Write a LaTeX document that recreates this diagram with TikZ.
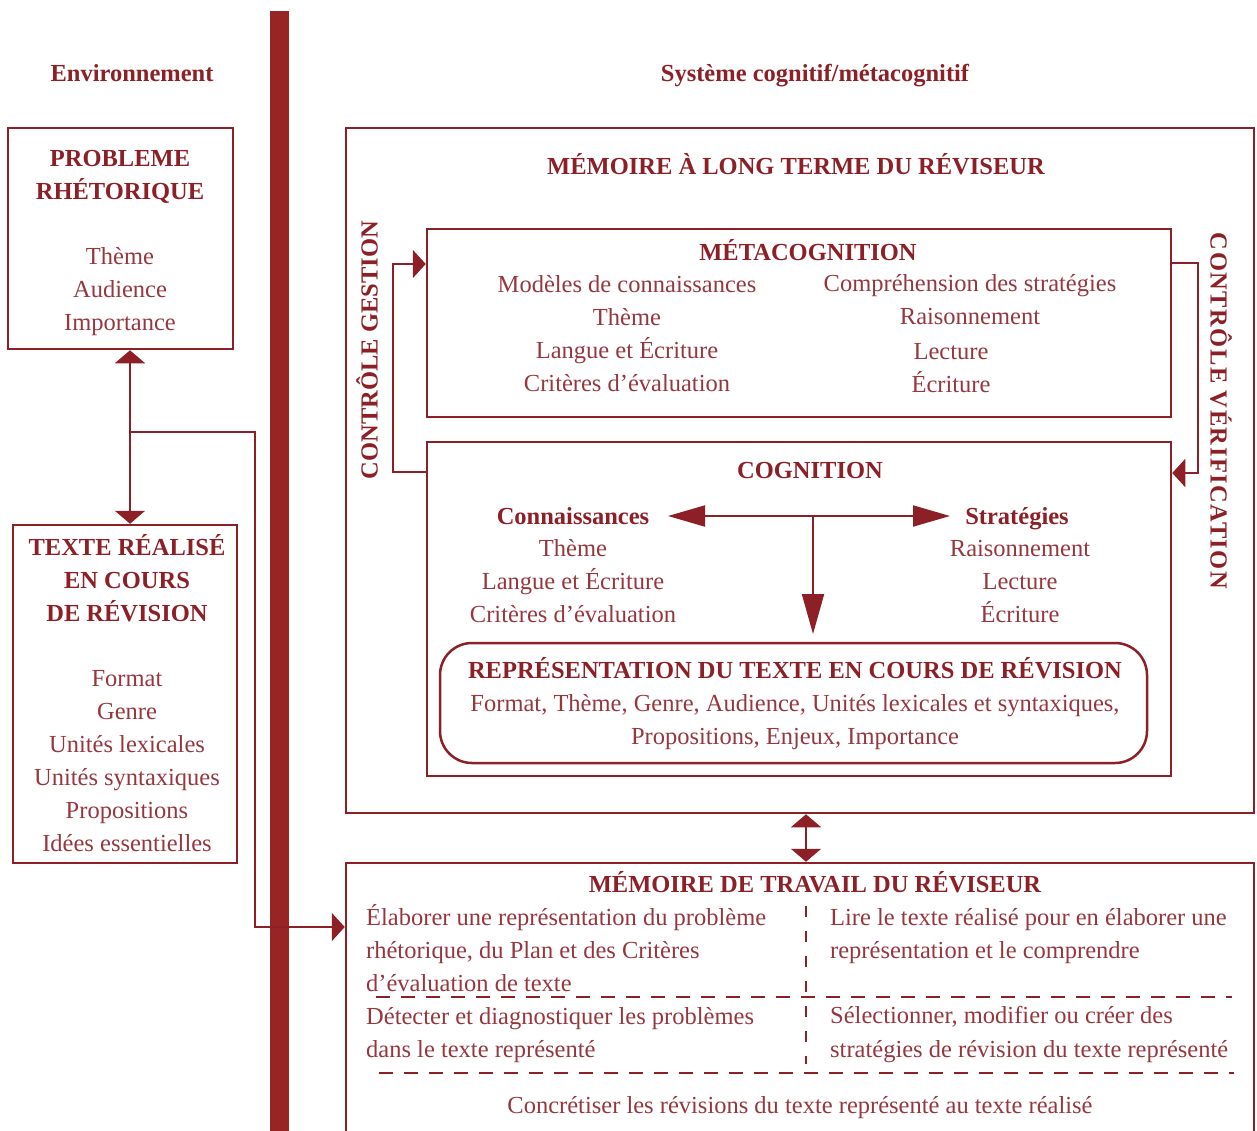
\documentclass[tikz,border=0pt]{standalone}
\usepackage{fontspec}
\setmainfont{Liberation Serif}
\usetikzlibrary{arrows.meta}
\definecolor{dred}{RGB}{140,32,38}
\definecolor{tred}{RGB}{150,55,62}
\definecolor{barred}{RGB}{152,36,36}
\begin{document}
\begin{tikzpicture}[x=1pt,y=-1pt,
  box/.style={draw=dred, line width=2.5pt, inner sep=0pt},
  txt/.style={text=tred, font=\fontsize{24.5}{33}\selectfont, align=center, inner sep=0pt},
  ltxt/.style={text=tred, font=\fontsize{24.5}{33}\selectfont, align=left, inner sep=0pt, anchor=west},
  ttl/.style={text=dred, font=\fontsize{24.5}{33}\selectfont\bfseries, align=center, inner sep=0pt},
  conn/.style={draw=dred, line width=2pt},
  smalltip/.style={-{Triangle[length=13pt,width=28pt]}},
  smallboth/.style={{Triangle[length=13pt,width=30pt]}-{Triangle[length=13pt,width=30pt]}},
  bigboth/.style={{Triangle[length=37pt,width=21pt]}-{Triangle[length=37pt,width=21pt]}},
  bigtip/.style={-{Triangle[length=40pt,width=22pt]}},
  dsh/.style={draw=dred, line width=2.5pt, dash pattern=on 14pt off 11pt}
]
\useasboundingbox (0,0) rectangle (1257,1130);
\clip (0,0) rectangle (1257,1130);

% thick separating bar
\fill[barred] (270,11) rectangle (289,1140);

% headings
\node[ttl] (env) at (132,73) {Environnement};
\node[ttl] (sys) at (815,76) {Système cognitif/métacognitif};

% environment boxes
\node[box, minimum width=225pt, minimum height=221pt] (prob) at (120.5,238.5) {};
\node[ttl] (probT) at (120,177) {PROBLEME\\RHÉTORIQUE};
\node[txt] (probI) at (120,292) {Thème\\Audience\\Importance};

\node[box, minimum width=224pt, minimum height=338pt] (texte) at (125,694) {};
\node[ttl] (texteT) at (127,578) {TEXTE RÉALISÉ\\EN COURS\\DE RÉVISION};
\node[txt] (texteI) at (127,761) {Format\\Genre\\Unités lexicales\\Unités syntaxiques\\Propositions\\Idées essentielles};

% long term memory
\node[box, minimum width=908pt, minimum height=685pt] (ltm) at (800,470.5) {};
\node[ttl] (ltmT) at (796,164) {MÉMOIRE À LONG TERME DU RÉVISEUR};
\node[ttl, rotate=90] (gest) at (367,350) {CONTRÔLE GESTION};
\node[ttl, rotate=-90, font=\fontsize{24.5}{33}\selectfont\bfseries\addfontfeatures{LetterSpace=6}] (verif) at (1221,411) {CONTRÔLE VÉRIFICATION};

% metacognition
\node[box, minimum width=744pt, minimum height=188pt] (meta) at (799,323) {};
\node[ttl] (metaT) at (808,250) {MÉTACOGNITION};
\node[txt] (metaL) at (627,334) {Modèles de connaissances\\Thème\\Langue et Écriture\\Critères d'évaluation};
\node[txt] (metaR1) at (970,300) {Compréhension des stratégies\\Raisonnement};
\node[txt] (metaR2) at (951,368) {Lecture\\Écriture};

% cognition
\node[box, minimum width=744pt, minimum height=334pt] (cog) at (799,609) {};
\node[ttl] (cogT) at (810,470) {COGNITION};
\node[ttl] (conn) at (573,516) {Connaissances};
\node[ttl] (strat) at (1017,519) {Stratégies};
\node[txt] (connI) at (573,581) {Thème\\Langue et Écriture\\Critères d'évaluation};
\node[txt] (stratI) at (1020,581) {Raisonnement\\Lecture\\Écriture};

\node[box, rounded corners=32pt, minimum width=707pt, minimum height=120pt] (rep) at (793.5,703) {};
\node[ttl] (repT) at (795,668) {REPRÉSENTATION DU TEXTE EN COURS DE RÉVISION};
\node[txt] (repI) at (795,722) {Format, Thème, Genre, Audience, Unités lexicales et syntaxiques,\\Propositions, Enjeux, Importance};

% working memory
\node[box, minimum width=908pt, minimum height=290pt] (wm) at (800,1008) {};
\node[ttl] (wmT) at (815,882) {MÉMOIRE DE TRAVAIL DU RÉVISEUR};
\node[ltxt] (wl1) at (366,948) {Élaborer une représentation du problème\\rhétorique, du Plan et des Critères\\d'évaluation de texte};
\node[ltxt] (wr1) at (830,936.5) {Lire le texte réalisé pour en élaborer une\\représentation et le comprendre};
\node[ltxt] (wl2) at (366,1035.5) {Détecter et diagnostiquer les problèmes\\dans le texte représenté};
\node[ltxt] (wr2) at (830,1034.5) {Sélectionner, modifier ou créer des\\stratégies de révision du texte représenté};
\node[txt] (wb) at (800,1108) {Concrétiser les révisions du texte représenté au texte réalisé};

\coordinate (h1a) at (376,997);
\coordinate (h1b) at (1232,997);
\coordinate (h2a) at (379,1073);
\coordinate (h2b) at (1234,1073);
\coordinate (v1a) at (806,906);
\coordinate (v1b) at (806,1064);
\draw[dsh] (h1a) -- (h1b);
\draw[dsh] (h2a) -- (h2b);
\draw[dsh, dash pattern=on 11pt off 14pt] (v1a) -- (v1b);

% connectors
\coordinate (ax) at (130,432);
\coordinate (bx) at (255,432);
\coordinate (by) at (255,927);
\draw[conn, smallboth] (ax |- prob.south) -- (ax |- texte.north);
\draw[conn, smalltip] (ax) -- (bx) -- (by) -- (by -| wm.west);

\coordinate (g1) at (393,264);
\coordinate (g2) at (393,472);
\draw[conn, smalltip] (g2 -| cog.west) -- (g2) -- (g1) -- (g1 -| meta.west);

\coordinate (vv1) at (1198,263);
\coordinate (vv2) at (1198,473);
\draw[conn, smalltip] (vv1 -| meta.east) -- (vv1) -- (vv2) -- (vv2 -| cog.east);

\coordinate (dx) at (806,838);
\draw[conn, smallboth] (dx |- ltm.south) -- (dx |- wm.north);

\coordinate (ca) at (668,516);
\coordinate (cb) at (950,516);
\coordinate (ch) at (813,516);
\coordinate (ct) at (813,634);
\draw[conn, bigboth] (ca) -- (cb);
\draw[conn, bigtip] (ch) -- (ct);
\end{tikzpicture}
\end{document}
